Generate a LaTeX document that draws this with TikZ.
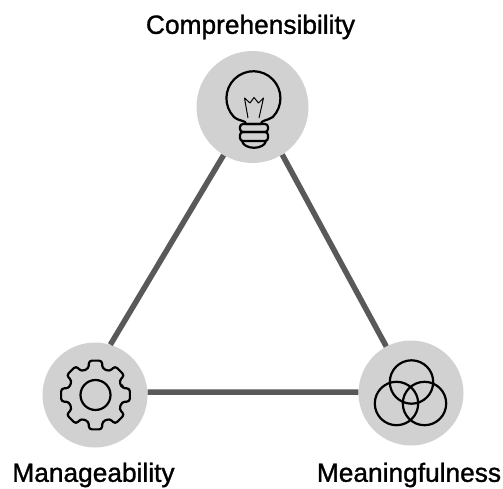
\documentclass[tikz,border=0pt]{standalone}
\usepackage{fontspec}
\setmainfont{Liberation Sans}[FakeBold=1.2]
\usepackage{tikz}

\begin{document}
\begin{tikzpicture}[x=1pt, y=-1pt]
    \tikzstyle{every node}=[inner sep=0pt]
    \tikzstyle{disc}=[circle, fill=black!18]
    \tikzstyle{link}=[draw=black!65, line width=5.5pt]
    \tikzstyle{icon}=[draw=black, line width=2.2pt, line join=round]
    \tikzstyle{thinicon}=[draw=black, line width=1pt, line join=round]
    \tikzstyle{caption}=[font=\fontsize{26.3}{28}\selectfont, text=black]
    \useasboundingbox (0,0) rectangle (503,489);

    % the three discs
    \node[disc, minimum size=112pt] (comp) at (252.5,107) {};
    \node[disc, minimum size=105pt] (manage) at (95,395) {};
    \node[disc, minimum size=105pt] (mean) at (411,393) {};

    % the triangle
    \draw[link] (comp.239) -- (manage.73);
    \draw[link] (comp.302) -- (mean.118);
    \draw[link] (manage.3) -- (mean.179);

    % lamp
    \draw[icon] (246,124) .. controls (246,120) and (240,122) .. (234,117)
        arc (136:404:27) .. controls (267,121) and (261,120) .. (261,124) -- cycle;
    \draw[icon, rounded corners=3pt] (240,124) rectangle (268,132);
    \draw[icon, rounded corners=3pt] (240,132) rectangle (268,141);
    \draw[icon] (242,141) .. controls (244,150) and (264,150) .. (266,141);
    \draw[thinicon] (248,118) -- (244.5,98) -- (250,103) -- (254,97.5) -- (258.5,103) -- (263.5,98) -- (259,118);

    % gear
    \begin{scope}[shift={(95.5,395)}]
        \draw[icon, rounded corners=3pt] (-14:27.5)
            \foreach \a in {0,45,...,315} { -- (\a-14:27.5) -- (\a-11:35) -- (\a+11:35) -- (\a+14:27.5) } -- cycle;
        \draw[icon] (0,0) circle (15);
    \end{scope}

    % rings
    \draw[icon] (411.5,382) circle (21.7);
    \draw[icon] (396.5,403.5) circle (21.7);
    \draw[icon] (424.5,403.5) circle (21.7);

    % captions
    \node[caption] (complabel) at (250.5,27) {Comprehensibility};
    \node[caption] (managelabel) at (93.5,475) {Manageability};
    \node[caption] (meanlabel) at (409,475) {Meaningfulness};
\end{tikzpicture}
\end{document}
